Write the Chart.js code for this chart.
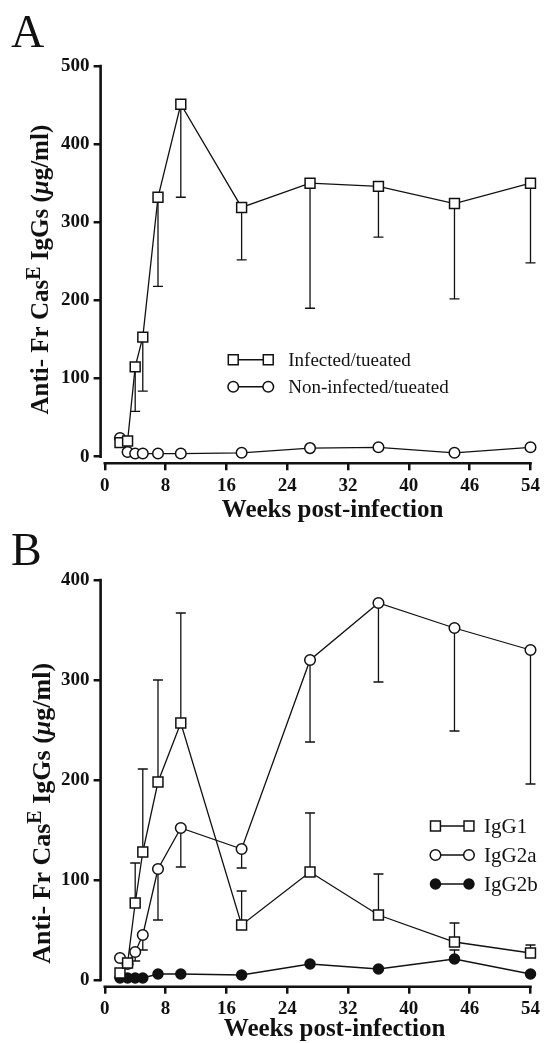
<!DOCTYPE html>
<html>
<head>
<meta charset="utf-8">
<script src="https://cdn.jsdelivr.net/npm/chart.js@4.4.0/dist/chart.umd.min.js"></script>
<style>
html, body { margin: 0; padding: 0; background: #fff; }
canvas { display: block; }
</style>
</head>
<body>
<canvas id="chartA" width="544" height="525"></canvas>
<canvas id="chartB" width="544" height="518"></canvas>
<script>
// x positions of the sampling weeks on the axis (ticks are evenly spaced)
const weeks = [2, 3, 4, 5, 7, 10, 18, 27, 36, 46, 56];
const xTickValues = [0, 8, 16, 24, 32, 40, 48, 56];
const xTickLabels = ['0', '8', '16', '24', '32', '40', '46', '54'];

// Panel A
const yTicksA = [0, 100, 200, 300, 400, 500];
const infected = [18, 20, 115, 153, 332, 451, 319, 350, 346, 324, 350];
const infectedErrLow = [null, null, 58, 84, 218, 332, 252, 190, 281, 202, 248];
const nonInfected = [24, 6, 4, 4, 4, 4, 5, 11, 12, 5, 12];

// Panel B
const yTicksB = [0, 100, 200, 300, 400];
const igg1 = [7, 17, 77, 128, 198, 257, 55, 108, 65, 38, 27];
const igg1ErrHigh = [null, null, 117, 211, 300, 367, 89, 167, 106, 57, 35];
const igg2a = [22, 16, 28, 45, 111, 152, 131, 320, 377, 352, 330];
const igg2aErrLow = [null, null, 19, 30, 60, 113, 112, 238, 298, 249, 196];
const igg2b = [2, 2, 2, 2, 6, 6, 5, 16, 11, 21, 6];
const igg2bErrHigh = [null, null, null, null, null, null, null, null, null, 30, null];

const FONT = '"Liberation Serif", "Times New Roman", serif';
const INK = '#111';

function toPoints(values) {
    return values.map((v, i) => ({ x: weeks[i], y: v }));
}

function series(label, values, style, radius, fill) {
    return {
        label: label,
        data: toPoints(values),
        borderColor: INK,
        borderWidth: 1.3,
        pointStyle: style,
        pointRadius: radius,
        pointHoverRadius: radius,
        pointBorderWidth: 1.5,
        pointBorderColor: INK,
        pointBackgroundColor: fill,
        tension: 0,
        clip: false
    };
}

// axis lines, detached like the original, plus error bars, legend and titles
const figurePlugin = {
    id: 'figure',
    beforeDatasetsDraw(chart, args, opts) {
        const ctx = chart.ctx;
        const xs = chart.scales.x;
        const ys = chart.scales.y;
        ctx.save();
        ctx.strokeStyle = INK;
        ctx.lineWidth = 1.3;
        (opts.errorBars || []).forEach(set => {
            const values = chart.data.datasets[set.dataset].data;
            set.ends.forEach((end, i) => {
                if (end === null) return;
                const x = xs.getPixelForValue(values[i].x);
                const y1 = ys.getPixelForValue(values[i].y);
                const y2 = ys.getPixelForValue(end);
                ctx.beginPath();
                ctx.moveTo(x, y1);
                ctx.lineTo(x, y2);
                ctx.moveTo(x - 5, y2);
                ctx.lineTo(x + 5, y2);
                ctx.stroke();
            });
        });
        ctx.restore();
    },
    afterDraw(chart, args, opts) {
        const ctx = chart.ctx;
        const area = chart.chartArea;
        const xs = chart.scales.x;
        const ys = chart.scales.y;
        ctx.save();
        ctx.strokeStyle = INK;
        ctx.fillStyle = INK;

        // axis lines
        ctx.lineWidth = 2.6;
        ctx.lineCap = 'square';
        const yTop = ys.getPixelForValue(opts.yTicks[opts.yTicks.length - 1]);
        const yZero = ys.getPixelForValue(0);
        ctx.beginPath();
        ctx.moveTo(area.left, yTop);
        ctx.lineTo(area.left, yZero);
        ctx.moveTo(xs.getPixelForValue(xTickValues[0]), area.bottom);
        ctx.lineTo(xs.getPixelForValue(xTickValues[xTickValues.length - 1]), area.bottom);
        ctx.stroke();

        // legend: marker - line - marker, then label
        const lg = opts.legend;
        const lx = xs.getPixelForValue(lg.x);
        let ly = ys.getPixelForValue(lg.y);
        ctx.textBaseline = 'middle';
        ctx.textAlign = 'left';
        ctx.font = lg.size + 'px ' + FONT;
        lg.items.forEach(idx => {
            const ds = chart.data.datasets[idx];
            ctx.lineWidth = 1.5;
            ctx.beginPath();
            ctx.moveTo(lx, ly);
            ctx.lineTo(lx + lg.span, ly);
            ctx.stroke();
            [lx, lx + lg.span].forEach(px => {
                ctx.beginPath();
                if (ds.pointStyle === 'rect') {
                    const h = ds.pointRadius * Math.SQRT1_2;
                    ctx.rect(px - h, ly - h, 2 * h, 2 * h);
                } else {
                    ctx.arc(px, ly, ds.pointRadius, 0, Math.PI * 2);
                }
                ctx.fillStyle = ds.pointBackgroundColor;
                ctx.fill();
                ctx.stroke();
            });
            ctx.fillStyle = INK;
            ctx.fillText(ds.label, lx + lg.span + lg.gap, ly + 1);
            ly += lg.rowGap;
        });

        // x axis title
        ctx.font = 'bold ' + opts.xTitleSize + 'px ' + FONT;
        ctx.textAlign = 'center';
        ctx.textBaseline = 'alphabetic';
        ctx.fillText('Weeks post-infection', (area.left + area.right) / 2 + opts.xTitleShift, area.bottom + opts.xTitleDrop);

        // y axis title with superscript E and italic mu
        const s = opts.yTitleSize;
        const parts = [
            { text: 'Anti- Fr Cas', font: 'bold ' + s + 'px ' + FONT, rise: 0 },
            { text: 'E', font: 'bold ' + Math.round(s * 0.78) + 'px ' + FONT, rise: s * 0.34 },
            { text: ' IgGs (', font: 'bold ' + s + 'px ' + FONT, rise: 0 },
            { text: 'μ', font: 'italic bold ' + s + 'px ' + FONT, rise: 0 },
            { text: 'g/ml)', font: 'bold ' + s + 'px ' + FONT, rise: 0 }
        ];
        let total = 0;
        parts.forEach(p => { ctx.font = p.font; p.w = ctx.measureText(p.text).width; total += p.w; });
        ctx.translate(opts.yTitleX, (area.top + area.bottom) / 2 + opts.yTitleShift);
        ctx.rotate(-Math.PI / 2);
        ctx.textAlign = 'left';
        let u = -total / 2;
        parts.forEach(p => {
            ctx.font = p.font;
            ctx.fillText(p.text, u, -p.rise);
            u += p.w;
        });
        ctx.restore();

        // panel letter
        ctx.save();
        ctx.fillStyle = INK;
        ctx.font = '46px ' + FONT;
        ctx.textBaseline = 'alphabetic';
        ctx.fillText(opts.letter, opts.letterX, opts.letterY);
        ctx.restore();
    }
};

function buildChart(canvasId, datasets, cfg) {
    return new Chart(document.getElementById(canvasId), {
        type: 'line',
        data: { datasets: datasets },
        plugins: [figurePlugin],
        options: {
            responsive: false,
            animation: false,
            events: [],
            layout: { padding: { left: 0, top: cfg.top, right: 11.4, bottom: 0 } },
            scales: {
                x: {
                    type: 'linear',
                    min: -0.55,
                    max: 56,
                    afterBuildTicks: scale => { scale.ticks = xTickValues.map(v => ({ value: v })); },
                    afterFit: scale => { scale.height = cfg.xHeight; },
                    border: { display: false },
                    grid: { drawOnChartArea: false, drawTicks: true, tickLength: 7, lineWidth: 2.5, color: INK },
                    ticks: {
                        autoSkip: false,
                        maxRotation: 0,
                        padding: 4,
                        color: INK,
                        font: { family: FONT, size: 19, weight: 'bold' },
                        callback: value => {
                            const i = xTickValues.indexOf(value);
                            return i >= 0 ? xTickLabels[i] : '';
                        }
                    }
                },
                y: {
                    type: 'linear',
                    min: cfg.yMin,
                    max: cfg.yTicks[cfg.yTicks.length - 1],
                    afterBuildTicks: scale => { scale.ticks = cfg.yTicks.map(v => ({ value: v })); },
                    afterFit: scale => { scale.width = 100.6; },
                    border: { display: false },
                    grid: { drawOnChartArea: false, drawTicks: true, tickLength: 7, lineWidth: 2.5, color: INK },
                    ticks: {
                        padding: 4,
                        color: INK,
                        font: { family: FONT, size: 19, weight: 'bold' }
                    }
                }
            },
            plugins: {
                legend: { display: false },
                tooltip: { enabled: false },
                figure: {
                    yTicks: cfg.yTicks,
                    errorBars: cfg.errorBars,
                    legend: cfg.legend,
                    xTitleSize: 25,
                    xTitleShift: cfg.xTitleShift,
                    xTitleDrop: cfg.xTitleDrop,
                    yTitleSize: cfg.yTitleSize,
                    yTitleX: cfg.yTitleX,
                    yTitleShift: cfg.yTitleShift,
                    letter: cfg.letter,
                    letterX: 11,
                    letterY: cfg.letterY
                }
            }
        }
    });
}

// Panel A
buildChart('chartA', [
    series('Infected/tueated', infected, 'rect', 7, '#fff'),
    series('Non-infected/tueated', nonInfected, 'circle', 5.3, '#fff')
], {
    top: 66,
    xHeight: 61.7,
    yMin: -8.45,
    yTicks: yTicksA,
    errorBars: [{ dataset: 0, ends: infectedErrLow }],
    legend: { x: 16.9, y: 124, span: 35, gap: 20, rowGap: 27, size: 19, items: [0, 1] },
    xTitleShift: 17,
    xTitleDrop: 54,
    yTitleSize: 25,
    yTitleX: 48,
    yTitleShift: 5,
    letter: 'A',
    letterY: 47
});

// Panel B
buildChart('chartB', [
    series('IgG1', igg1, 'rect', 7, '#fff'),
    series('IgG2a', igg2a, 'circle', 5.3, '#fff'),
    series('IgG2b', igg2b, 'circle', 5, INK)
], {
    top: 55,
    xHeight: 56.3,
    yMin: -6.7,
    yTicks: yTicksB,
    errorBars: [
        { dataset: 0, ends: igg1ErrHigh },
        { dataset: 1, ends: igg2aErrLow },
        { dataset: 2, ends: igg2bErrHigh }
    ],
    legend: { x: 43.5, y: 154, span: 33.5, gap: 15, rowGap: 29, size: 21, items: [0, 1, 2] },
    xTitleShift: 19,
    xTitleDrop: 49,
    yTitleSize: 26,
    yTitleX: 50,
    yTitleShift: 30,
    letter: 'B',
    letterY: 40
});
</script>
</body>
</html>
